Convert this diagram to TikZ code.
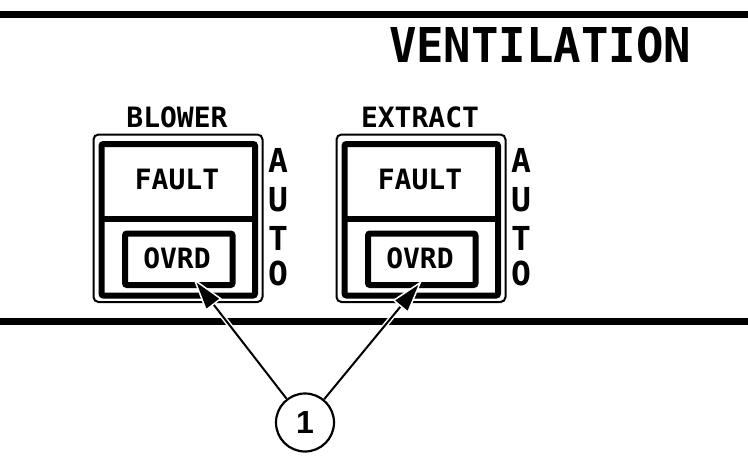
\documentclass[tikz,border=0pt]{standalone}
\usepackage{fontspec}
\newfontfamily\panelfont{DejaVu Sans Mono}
\newfontfamily\titlefont{DejaVu Sans Mono}[FakeStretch=0.95]
\newfontfamily\calloutfont{Liberation Sans}
\usetikzlibrary{arrows.meta}

\tikzset{
  panel label/.style={font={\panelfont\bfseries\fontsize{28}{30}\selectfont},inner sep=0pt},
  auto letter/.style={font={\panelfont\bfseries\fontsize{33}{35}\selectfont},inner sep=0pt},
  bezel/.style={line width=2pt,rounded corners=5pt},
  face/.style={line width=6pt,rounded corners=2pt},
  rule line/.style={line width=7pt},
  leader/.style={line width=2pt,
    -{Triangle[length=34pt,width=20pt,color=white,fill=black,line width=1.5pt]},
    preaction={draw=white,line width=5pt,-,shorten >=25pt}},
}

\begin{document}
\begin{tikzpicture}[x=1pt,y=-1pt]
\useasboundingbox (0,0) rectangle (748,459);
\draw[rule line] (0,14.5) -- (748,14.5);
\node[font={\titlefont\bfseries\fontsize{48}{50}\selectfont},inner sep=0pt] (title) at (540,45.5) {VENTILATION};

% the two switch panels
\foreach \name/\dx in {BLOWER/0,EXTRACT/243} {
  \begin{scope}[xshift=\dx pt]
    \draw[bezel] (93.5,134.5) rectangle (262.5,302);
    \draw[face] (101.5,144) rectangle (255,295.5);
    \draw[line width=6pt] (101.5,218.5) -- (255,218.5);
    \draw[face] (125,233.5) rectangle (232.5,285);
    \node[panel label] (\name-name) at (177,117) {\name};
    \node[panel label] (\name-fault) at (177,179) {FAULT};
    \node[panel label] (\name-ovrd) at (177,258.5) {OVRD};
    \foreach \ch/\yy in {A/160,U/199.5,T/238.5,O/273.5}
      \node[auto letter] (\name-\ch) at (278,\yy) {\ch};
  \end{scope}
}
\draw[rule line] (0,321.5) -- (748,321.5);

% callout
\node[draw,circle,line width=2.2pt,minimum size=58pt,inner sep=0pt,
  font={\calloutfont\bfseries\fontsize{32}{32}\selectfont}] (callout) at (305,422.5) {1};
\coordinate (blowerTip) at (193,278);
\coordinate (extractTip) at (422,280.5);
\draw[leader] (callout) -- (blowerTip);
\draw[leader] (callout) -- (extractTip);
\end{tikzpicture}
\end{document}
